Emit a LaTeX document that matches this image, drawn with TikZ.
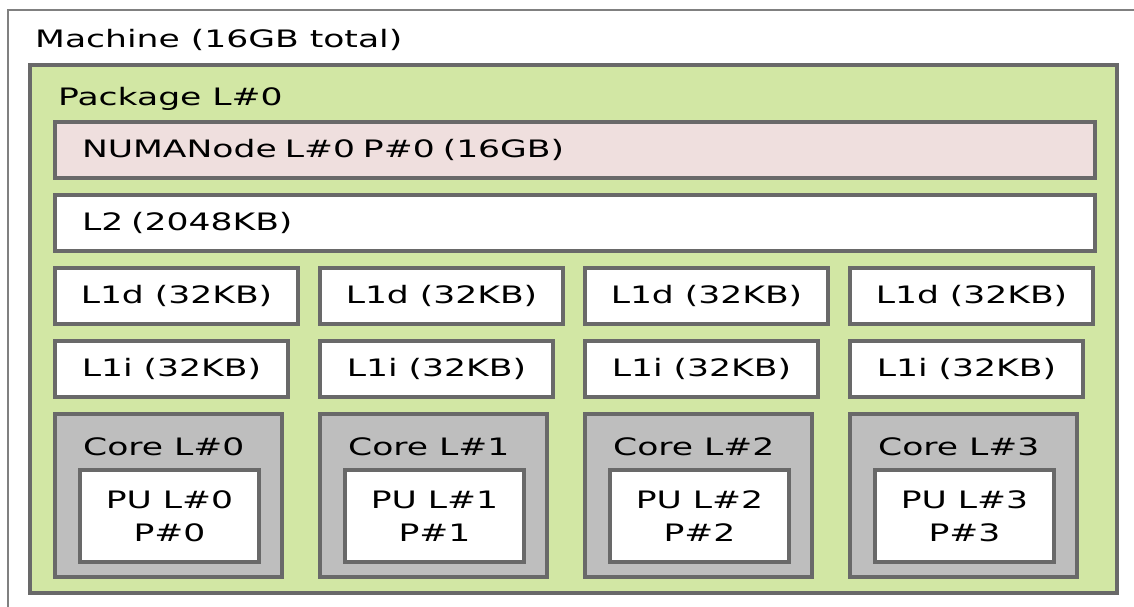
\documentclass[tikz,border=0pt]{standalone}
\usepackage{fontspec}
\setmainfont[FakeStretch=1.44]{DejaVu Sans}
\usetikzlibrary{positioning,calc}
\definecolor{pkgfill}{RGB}{210,231,164}
\definecolor{numafill}{RGB}{239,223,222}
\definecolor{corefill}{RGB}{190,190,190}
\definecolor{edge}{RGB}{105,105,105}
\definecolor{machedge}{RGB}{128,128,128}
\tikzset{
  box/.style     = {draw=edge, line width=3.5pt, anchor=north west,
                    inner sep=0pt, outer sep=0pt},
  machine/.style = {box, draw=machedge, line width=2pt, fill=white},
  pkg/.style     = {box, fill=pkgfill},
  wide/.style    = {box, fill=white, align=left, inner xsep=27pt,
                    text width=986pt, minimum height=56pt},
  numa/.style    = {wide, fill=numafill},
  cache/.style   = {box, fill=white, minimum height=56pt},
  l1d/.style     = {cache, minimum width=243pt},
  l1i/.style     = {cache, minimum width=233pt},
  core/.style    = {box, fill=corefill, minimum width=227pt, minimum height=163pt},
  pu/.style      = {box, fill=white, align=center, minimum width=179pt,
                    minimum height=92pt, font=\fontsize{24}{33}\selectfont},
  lbl/.style     = {anchor=base west, inner sep=0pt},
}

\begin{document}
\begin{tikzpicture}[x=1pt, y=1pt, font=\fontsize{24}{29}\selectfont]
  \useasboundingbox (0,0) rectangle (1134,-607);
  \clip (0,0) rectangle (1134,-607);
  % machine and package
  \node[machine, minimum width=1200, minimum height=660] (mach) at (8,-10) {};
  \node[lbl] (machlbl) at ($(mach.north west)+(27,-38)$) {Machine (16GB total)};
  \node[pkg, minimum width=1087, minimum height=528] (pkg) at (30,-65) {};
  \node[lbl] (pkglbl) at ($(pkg.north west)+(28,-41)$) {Package L\#0};
  % memory and shared cache
  \node[numa] (numa) at (55,-122) {NUMANode L\#0 P\#0 (16GB)};
  \node[wide] (l2) at (55,-195) {L2 (2048KB)};
  % per-core caches
  \node[l1d] (l1d0) at (55,-268)  {L1d (32KB)};
  \node[l1d] (l1d1) at (320,-268) {L1d (32KB)};
  \node[l1d] (l1d2) at (585,-268) {L1d (32KB)};
  \node[l1d] (l1d3) at (850,-268) {L1d (32KB)};
  \node[l1i] (l1i0) at (55,-341)  {L1i (32KB)};
  \node[l1i] (l1i1) at (320,-341) {L1i (32KB)};
  \node[l1i] (l1i2) at (585,-341) {L1i (32KB)};
  \node[l1i] (l1i3) at (850,-341) {L1i (32KB)};
  % cores and processing units
  \node[core] (core0) at (55,-414)  {};
  \node[core] (core1) at (320,-414) {};
  \node[core] (core2) at (585,-414) {};
  \node[core] (core3) at (850,-414) {};
  \node[lbl] (corelbl0) at ($(core0.north west)+(28,-41)$) {Core L\#0};
  \node[lbl] (corelbl1) at ($(core1.north west)+(28,-41)$) {Core L\#1};
  \node[lbl] (corelbl2) at ($(core2.north west)+(28,-41)$) {Core L\#2};
  \node[lbl] (corelbl3) at ($(core3.north west)+(28,-41)$) {Core L\#3};
  \node[pu] (pu0) at ($(core0.north west)+(25,-56)$) {PU L\#0\\P\#0};
  \node[pu] (pu1) at ($(core1.north west)+(25,-56)$) {PU L\#1\\P\#1};
  \node[pu] (pu2) at ($(core2.north west)+(25,-56)$) {PU L\#2\\P\#2};
  \node[pu] (pu3) at ($(core3.north west)+(25,-56)$) {PU L\#3\\P\#3};
\end{tikzpicture}
\end{document}
